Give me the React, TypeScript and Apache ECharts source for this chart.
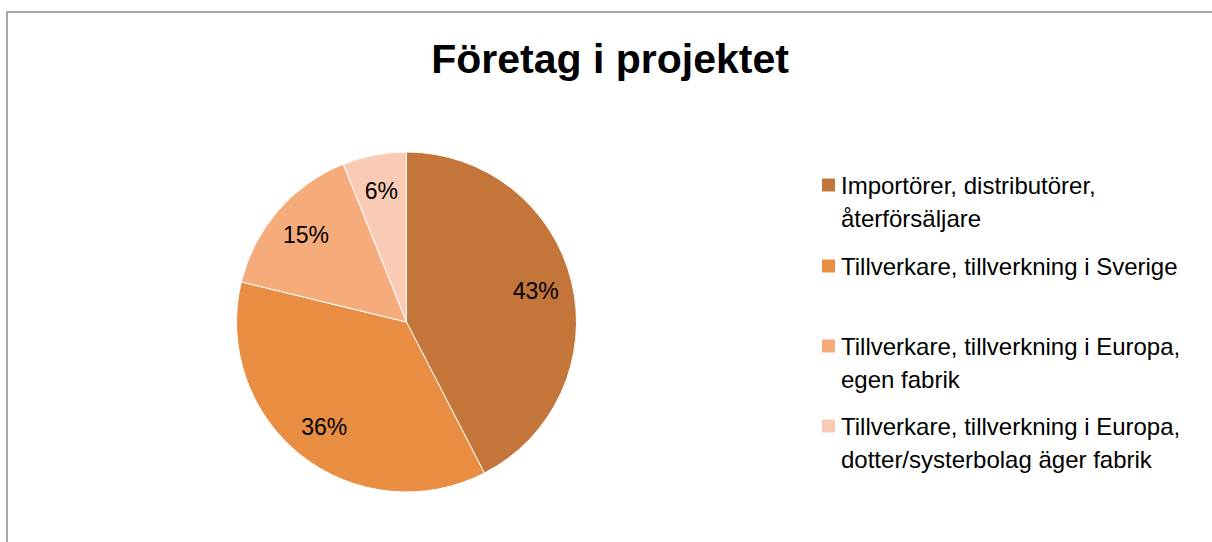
import React, { useEffect, useRef } from "react";
import * as echarts from "echarts";

const title = "Företag i projektet";
const categories = [
  "Importörer, distributörer,\nåterförsäljare",
  "Tillverkare, tillverkning i Sverige",
  "Tillverkare, tillverkning i Europa,\negen fabrik",
  "Tillverkare, tillverkning i Europa,\ndotter/systerbolag äger fabrik",
];
const values = [14, 12, 5, 2];
const colors = ["#C4763A", "#E88D42", "#F6AB7A", "#F9CBB4"];
const legendCenters = [185, 266, 346, 426];

const FONT = "'Liberation Sans', Arial, sans-serif";

function roundPercents(vals: number[]): number[] {
  const total = vals.reduce((a, b) => a + b, 0);
  const raw = vals.map((v) => (v / total) * 100);
  const floors = raw.map((r) => Math.floor(r));
  let rest = 100 - floors.reduce((a, b) => a + b, 0);
  const order = raw
    .map((r, i) => ({ i, rem: r - Math.floor(r) }))
    .sort((a, b) => b.rem - a.rem);
  for (let k = 0; k < order.length && rest > 0; k++, rest--) floors[order[k].i] += 1;
  return floors;
}

export default function App() {
  const ref = useRef<HTMLDivElement>(null);
  useEffect(() => {
    document.body.style.margin = "0";
    if (!ref.current) return;
    const chart = echarts.init(ref.current, null, { renderer: "svg" });
    const pct = roundPercents(values);
    const data = categories.map((name, i) => ({
      name,
      value: values[i],
      itemStyle: { color: colors[i] },
    }));
    const LH = 33;
    chart.setOption({
      animation: false,
      backgroundColor: "#fff",
      title: {
        text: title,
        left: 605,
        textAlign: "center",
        top: 33,
        textStyle: { fontFamily: FONT, fontSize: 41, fontWeight: "bold", color: "#000" },
      },
      legend: categories.map((name, i) => {
        const multi = name.includes("\n");
        return {
          orient: "vertical",
          left: 820,
          top: legendCenters[i] - (multi ? 1.5 * LH : 0.5 * LH),
          padding: 0,
          itemWidth: 15,
          itemHeight: 15,
          icon: "rect",
          selectedMode: false,
          formatter: (n: string) => (n.includes("\n") ? "\n" + n : n),
          textStyle: {
            fontFamily: FONT,
            fontSize: 24,
            lineHeight: LH,
            color: "#000",
          },
          data: [name],
        };
      }),
      graphic: [
        {
          type: "rect",
          shape: { x: 7, y: 12, width: 1240, height: 600 },
          style: { fill: "none", stroke: "#8C8C8C", lineWidth: 1.5 },
          silent: true,
        },
      ],
      series: [
        {
          type: "pie",
          center: [406.5, 322],
          radius: [0, 170],
          startAngle: 90,
          clockwise: true,
          label: { show: false },
          labelLine: { show: false },
          itemStyle: { borderColor: "#fff", borderWidth: 1 },
          emphasis: { disabled: true },
          data,
        },
        {
          type: "pie",
          center: [406.5, 322],
          radius: [90, 170],
          startAngle: 90,
          clockwise: true,
          silent: true,
          legendHoverLink: false,
          itemStyle: { color: "transparent", borderWidth: 0 },
          label: {
            show: true,
            position: "inside",
            fontFamily: FONT,
            fontSize: 23,
            color: "#000",
            formatter: (p: any) => pct[p.dataIndex] + "%",
          },
          labelLine: { show: false },
          emphasis: { disabled: true },
          data: categories.map((name, i) => ({ name, value: values[i] })),
        },
      ],
    });
    return () => chart.dispose();
  }, []);
  return <div ref={ref} style={{ width: 1212, height: 542 }} />;
}
